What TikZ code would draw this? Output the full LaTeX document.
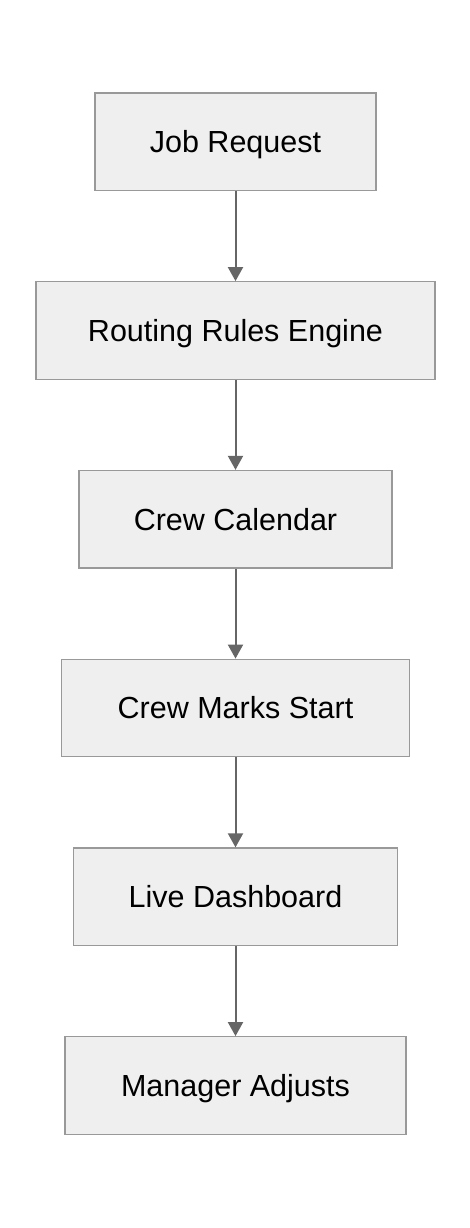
\documentclass[tikz,border=0pt]{standalone}
\usepackage{fontspec}
\setmainfont{Liberation Sans}
\usetikzlibrary{arrows.meta}
\definecolor{boxfill}{HTML}{EFEFEF}
\definecolor{boxline}{HTML}{999999}
\definecolor{arrowcol}{HTML}{666666}
\begin{document}
\begin{tikzpicture}[x=1pt,y=-1pt,
  flowbox/.style={draw=boxline, fill=boxfill, line width=1.3pt, rectangle,
    minimum height=97.5pt, inner sep=0pt,
    font=\fontsize{30.5}{36}\selectfont, text height=21.8pt, text depth=0pt},
  flowarrow/.style={draw=arrowcol, line width=2pt, -{Triangle[length=14pt,width=15pt]}}]
\useasboundingbox (0,0) rectangle (470,1228);
\node[flowbox, minimum width=281pt] (job) at (235.5,141.75) {Job Request};
\node[flowbox, minimum width=399pt] (route) at (235.5,330.5) {Routing Rules Engine};
\node[flowbox, minimum width=313pt] (cal) at (235.5,519.25) {Crew Calendar};
\node[flowbox, minimum width=348pt] (start) at (235.5,708) {Crew Marks Start};
\node[flowbox, minimum width=324pt] (dash) at (235.5,896.75) {Live Dashboard};
\node[flowbox, minimum width=341pt] (mgr) at (235.5,1085.5) {Manager Adjusts};
\draw[flowarrow] (job) -- (route);
\draw[flowarrow] (route) -- (cal);
\draw[flowarrow] (cal) -- (start);
\draw[flowarrow] (start) -- (dash);
\draw[flowarrow] (dash) -- (mgr);
\end{tikzpicture}
\end{document}
